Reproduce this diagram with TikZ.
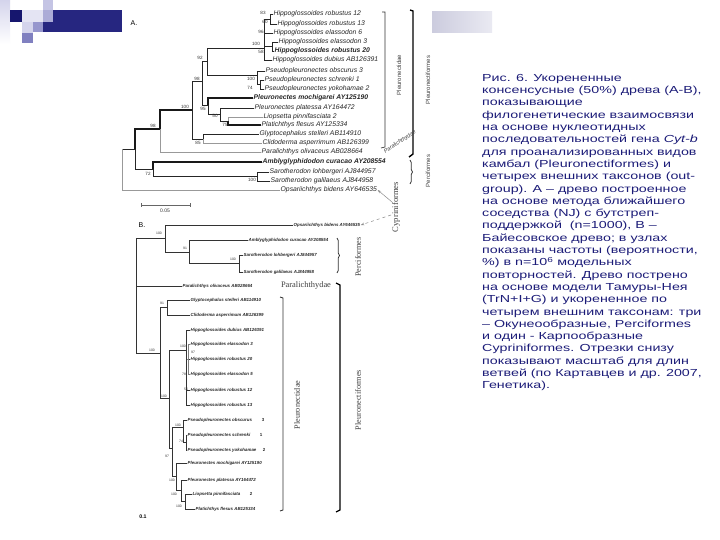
\documentclass[tikz,border=0pt]{standalone}
\usepackage{fontspec}
\setmainfont{Liberation Sans}
\newfontfamily\capfont[FakeStretch=1.4]{Liberation Sans}
\newfontfamily\serifB{Liberation Serif}
\usetikzlibrary{arrows.meta,decorations.pathreplacing}
\definecolor{capblue}{RGB}{28,28,120}
\definecolor{hdNavy}{RGB}{22,22,110}
\definecolor{hdBar}{RGB}{38,38,128}
\definecolor{hlA}{RGB}{212,212,236}
\definecolor{hlB}{RGB}{228,228,243}
\definecolor{hlC}{RGB}{196,196,228}
\definecolor{hmA}{RGB}{150,150,205}
\definecolor{hmB}{RGB}{128,128,192}
\definecolor{hmC}{RGB}{172,172,215}
\definecolor{boxL}{RGB}{204,204,222}
\definecolor{boxR}{RGB}{234,234,242}
\begin{document}
\begin{tikzpicture}[x=1pt,y=-1pt,
  leafA/.style={anchor=west,inner sep=0.5pt,font=\fontsize{6.8}{6.8}\selectfont\itshape,text=black!85},
  leafB/.style={anchor=west,inner sep=0.5pt,font=\fontsize{4.4}{4.4}\selectfont\bfseries\itshape,text=black!85},
  numB/.style={inner sep=0pt,font=\fontsize{4.4}{4.4}\selectfont\bfseries,text=black!85},
  bsA/.style={inner sep=0pt,font=\fontsize{4.6}{4.6}\selectfont,text=black!80},
  bsB/.style={inner sep=0pt,font=\fontsize{3.4}{3.4}\selectfont,text=black!80},
  tr/.style={draw=black!85,line width=0.7pt},
  trk/.style={draw=black!90,line width=1.4pt},
  trg/.style={draw=black!40,line width=0.7pt},
  trB/.style={draw=black!80,line width=0.45pt},
  brA/.style={draw=black!80,line width=0.7pt},
  labA/.style={rotate=90,inner sep=0pt,font=\fontsize{6}{6}\selectfont,text=black!75},
  labB/.style={rotate=90,inner sep=0pt,font=\serifB\fontsize{8.2}{8.2}\selectfont,text=black!75}]
\useasboundingbox (0,0) rectangle (720,540);
\fill[white] (0,0) rectangle (720,540);
% ---------- header decoration ----------
\shade[top color=hlA,bottom color=white] (0,0) rectangle (10,44);
\fill[hdNavy] (10,10) rectangle (22,22);
\fill[hlB] (22,10) rectangle (43,22);
\fill[hlC] (43,0) rectangle (53,10);
\fill[hlA] (22,22) rectangle (33,33);
\fill[hmA] (33,22) rectangle (43,32);
\fill[hmB] (22,33) rectangle (33,43);
\fill[hmC] (43,10) rectangle (53,22);
\fill[hdBar] (53,10) rectangle (122,32);
\fill[hdBar] (43,22) rectangle (53,32);
\shade[left color=boxL,right color=boxR] (432,12) rectangle (492,33);
% ---------- tree A ----------
\node[inner sep=0pt,font=\fontsize{7}{7}\selectfont] (labA) at (134,23) {A.};
\node[leafA] (a1) at (273,14) {Hippoglossoides robustus 12};
\node[leafA] (a2) at (277,24) {Hippoglossoides robustus 13};
\node[leafA] (a3) at (273,33) {Hippoglossoides elassodon 6};
\node[leafA] (a4) at (278,42) {Hippoglossoides elassodon 3};
\node[leafA,font=\fontsize{6.8}{6.8}\selectfont\itshape\bfseries] (a5) at (274,51) {Hippoglossoides robustus 20};
\node[leafA] (a6) at (272,60) {Hippoglossoides dubius AB126391};
\node[leafA] (a7) at (265,71) {Pseudopleuronectes obscurus 3};
\node[leafA] (a8) at (264,80) {Pseudopleuronectes schrenki 1};
\node[leafA] (a9) at (264,89) {Pseudopleuronectes yokohamae 2};
\node[leafA,font=\fontsize{6.8}{6.8}\selectfont\itshape\bfseries] (a10) at (253,98) {Pleuronectes mochigarei AY125190};
\node[leafA] (a11) at (254,108) {Pleuronectes platessa AY164472};
\node[leafA] (a12) at (263,117) {Liopsetta pinnifasciata 2};
\node[leafA] (a13) at (261,125) {Platichthys flesus AY125334};
\node[leafA] (a14) at (259,134) {Glyptocephalus stelleri AB114910};
\node[leafA] (a15) at (262,143) {Clidoderma asperrimum AB126399};
\node[leafA] (a16) at (261,152) {Paralichthys olivaceus AB028664};
\node[leafA,font=\fontsize{6.8}{6.8}\selectfont\itshape\bfseries] (a17) at (262,162) {Amblyglyphidodon curacao AY208554};
\node[leafA] (a18) at (269,172) {Sarotherodon lohbergeri AJ844957};
\node[leafA] (a19) at (270,181) {Sarotherodon galilaeus AJ844958};
\node[leafA] (a20) at (280,190) {Opsariichthys bidens AY646535};
\coordinate (aR) at (122,149);
\coordinate (aN1) at (135,149);
\coordinate (aF) at (160,129);
\coordinate (aPc) at (153,169);
\coordinate (aG) at (192,110);
\coordinate (aP) at (202,81);
\coordinate (aGC) at (203,139);
\coordinate (aQ) at (207,61);
\coordinate (aS) at (208,105);
\coordinate (aH) at (264,48);
\coordinate (aPs) at (257,75);
\coordinate (aH2) at (270,19);
\coordinate (aH4) at (272,46);
\coordinate (aPs2) at (260,84);
\coordinate (aS2) at (220,114);
\coordinate (aS3) at (228,121);
\coordinate (aSar) at (257,176);
\draw[tr] (aR) |- (aN1);
\draw[trg] (aR) |- (a20.west);
\draw[trk] (aN1) |- (aF);
\draw[tr] (aN1) |- (aPc);
\draw[trk] (aF) |- (aG);
\draw[trg] (aF) |- (a16.west);
\draw[tr] (aG) |- (aP);
\draw[tr] (aG) |- (aGC);
\draw[tr] (aP) |- (aQ);
\draw[tr] (aP) |- (aS);
\draw[tr] (aQ) |- (aH);
\draw[tr] (aQ) |- (aPs);
\draw[tr] (aH) |- (aH2);
\draw[tr] (aH) |- (a3.west);
\draw[tr] (aH) |- (aH4);
\draw[tr] (aH) |- (a6.west);
\draw[tr] (aH2) |- (a1.west);
\draw[tr] (aH2) |- (a2.west);
\draw[tr] (aH4) |- (a4.west);
\draw[tr] (aH4) |- (a5.west);
\draw[tr] (aPs) |- (a7.west);
\draw[tr] (aPs) |- (aPs2);
\draw[tr] (aPs2) |- (a8.west);
\draw[tr] (aPs2) |- (a9.west);
\draw[trk] (aS) |- (a10.west);
\draw[tr] (aS) |- (aS2);
\draw[tr] (aS2) |- (a11.west);
\draw[tr] (aS2) |- (aS3);
\draw[trg] (aS3) |- (a12.west);
\draw[trk] (aS3) |- (a13.west);
\draw[tr] (aGC) |- (a14.west);
\draw[trg] (aGC) |- (a15.west);
\draw[trk] (aPc) |- (a17.west);
\draw[tr] (aPc) |- (aSar);
\draw[tr] (aSar) |- (a18.west);
\draw[tr] (aSar) |- (a19.west);
\foreach \t/\x/\y [count=\i] in {83/263/13,60/265/22,96/261/32,100/256/44,58/261/52,92/200/58,98/197/79,100/251/79,74/250/88,100/185/107,95/203/109,50/215/116,75/225/125,98/153/126,85/198/143,72/148/174,100/252/180}
  \node[bsA] (bsa\i) at (\x,\y) {\t};
% scale bar A
\coordinate (sbA1) at (141,205);
\coordinate (sbA2) at (190,205);
\draw[draw=black!60,line width=0.6pt] (sbA1) -- (sbA2);
\draw[draw=black!60,line width=0.6pt] ([yshift=-2pt]sbA1) -- ([yshift=2pt]sbA1);
\draw[draw=black!60,line width=0.6pt] ([yshift=-2pt]sbA2) -- ([yshift=2pt]sbA2);
\node[bsA,font=\fontsize{5}{5}\selectfont] (sbAl) at (165,211) {0.05};
% brackets A
\draw[brA] (382,12) -- (385,12) -- (385,147) -- (381,148);
\node[labA] (lPdA) at (399,75) {Pleuronectidae};
\draw[draw=black,line width=1.4pt] (410,10) -- (413,11) -- (413,154) -- (409,157);
\node[labA] (lPfA) at (428,80) {Pleuronectiformes};
\node[inner sep=0pt,rotate=33,font=\fontsize{5.6}{5.6}\selectfont\itshape,text=black!75] (lPaA) at (400,142) {Paralichthydae};
\draw[brA,decorate,decoration={brace,amplitude=2.5pt}] (410,160) -- (410,184);
\node[labA] (lPcA) at (428,171) {Perciformes};
% Cypriniformes
\node[labB,font=\serifB\fontsize{8.6}{8.6}\selectfont] (lCy) at (396,207) {Cypriniformes};
\coordinate (cyA) at (392,202);
\coordinate (cyB) at (391,215);
% ---------- tree B ----------
\node[inner sep=0pt,font=\fontsize{7}{7}\selectfont] (labB) at (142,225) {B.};
\node[leafB] (b1) at (293,225) {Opsariichthys bidens AY646535};
\node[leafB] (b2) at (248,240) {Amblyglyphidodon curacao AY208554};
\node[leafB] (b3) at (243,255) {Sarotherodon lohbergeri AJ844957};
\node[leafB] (b4) at (243,272) {Sarotherodon galilaeus AJ844958};
\node[leafB] (b5) at (182,286) {Paralichthys olivaceus AB028664};
\node[leafB] (b6) at (190,300) {Glyptocephalus stelleri AB114910};
\node[leafB] (b7) at (190,315) {Clidoderma asperrimum AB126399};
\node[leafB] (b8) at (190,330) {Hippoglossoides dubius AB126391};
\node[leafB] (b9) at (190,344) {Hippoglossoides elassodon 3};
\node[leafB] (b10) at (190,359) {Hippoglossoides robustus 20};
\node[leafB] (b11) at (190,374) {Hippoglossoides elassodon 5};
\node[leafB] (b12) at (190,390) {Hippoglossoides robustus 12};
\node[leafB] (b13) at (190,405) {Hippoglossoides robustus 13};
\node[leafB] (b14) at (187,420) {Pseudopleuronectes obscurus};
\node[leafB] (b15) at (187,435) {Pseudopleuronectes schrenki};
\node[leafB] (b16) at (187,450) {Pseudopleuronectes yokohamae};
\node[leafB] (b17) at (187,463) {Pleuronectes mochigarei AY125190};
\node[leafB] (b18) at (187,480) {Pleuronectes platessa AY164472};
\node[leafB] (b19) at (192,494) {Liopsetta pinnifasciata};
\node[leafB] (b20) at (195,509) {Platichthys flesus AB125334};
\node[numB] (n14) at (263,420) {3};
\node[numB] (n15) at (261,435) {1};
\node[numB] (n16) at (264,450) {2};
\node[numB] (n19) at (251,494) {2};
\coordinate (bR) at (136,238);
\coordinate (bOP) at (165,238);
\coordinate (bPc) at (189,252);
\coordinate (bSar) at (239,263);
\coordinate (bPL) at (160,353);
\coordinate (bGC) at (167,307);
\coordinate (bR2) at (169,398);
\coordinate (bHB) at (186,350);
\coordinate (bHB2) at (188,359);
\coordinate (bR3) at (172,448);
\coordinate (bPs) at (183,427);
\coordinate (bPs2) at (186,442);
\coordinate (bPn) at (176,476);
\coordinate (bPn2) at (181,490);
\coordinate (bPn3) at (185,501);
\draw[trB] (bR) |- (bOP);
\draw[trB] (bOP) |- (b1.west);
\draw[trB] (bOP) |- (bPc);
\draw[trB] (bPc) |- (b2.west);
\draw[trB] (bPc) |- (bSar);
\draw[trB] (bSar) |- (b3.west);
\draw[trB] (bSar) |- (b4.west);
\draw[trB] (bR) |- (b5.west);
\draw[trB] (bR) |- (bPL);
\draw[trB] (bPL) |- (bGC);
\draw[trB] (bPL) |- (bR2);
\draw[trB] (bGC) |- (b6.west);
\draw[trB] (bGC) |- (b7.west);
\draw[trB] (bR2) |- (bHB);
\draw[trB] (bR2) |- (bR3);
\draw[trB] (bHB) |- (b8.west);
\draw[trB,draw=black!50,line width=1pt] (bHB) |- (bHB2);
\draw[trB] (bHB) |- (b12.west);
\draw[trB] (bHB) |- (b13.west);
\draw[trB,draw=black!50,line width=1pt] (bHB2) |- (b9.west);
\draw[trB] (bHB2) |- (b10.west);
\draw[trB,draw=black!50,line width=1pt] (bHB2) |- (b11.west);
\draw[trB] (bR3) |- (bPs);
\draw[trB] (bR3) |- (bPn);
\draw[trB] (bPs) |- (b14.west);
\draw[trB] (bPs) |- (bPs2);
\draw[trB,line width=0.9pt] (bPs2) |- (b15.west);
\draw[trB,line width=0.9pt] (bPs2) |- (b16.west);
\draw[trB] (bPn) |- (b17.west);
\draw[trB] (bPn) |- (bPn2);
\draw[trB] (bPn2) |- (b18.west);
\draw[trB] (bPn2) |- (bPn3);
\draw[trB] (bPn3) |- (b19.west);
\draw[trB] (bPn3) |- (b20.west);
\foreach \t/\x/\y [count=\i] in {100/159/233,91/185/248,100/233/259,91/162/303,100/152/350,100/164/396,100/183/346,97/193/352,78/184/374,56/186/389,100/178/425,74/181/441,97/167/456,100/172/480,100/174/494,100/179/506}
  \node[bsB] (bsb\i) at (\x,\y) {\t};
\node[inner sep=0pt,font=\fontsize{5.2}{5.2}\selectfont\bfseries] (sbB) at (143,517) {0.1};
% brackets B
\draw[brA,line width=0.8pt,decorate,decoration={brace,amplitude=2.5pt}] (337,238) -- (337,273);
\node[labB] (lPcB) at (358,257) {Perciformes};
\node[inner sep=0pt,font=\serifB\fontsize{8.4}{8.4}\selectfont,text=black!75] (lPaB) at (306,285) {Paralichthydae};
\draw[brA,line width=0.8pt] (280,297) -- (283,298) -- (283,510) -- (280,511);
\node[labB] (lPdB) at (297,405) {Pleuronectidae};
\draw[draw=black,line width=1.3pt] (336,283) -- (340,285) -- (340,510) -- (336,512);
\node[labB] (lPfB) at (358,400) {Pleuronectiformes};
% pointers to Cypriniformes
\draw[draw=black!45,line width=0.5pt,-{Stealth[length=3.5pt,width=2.5pt]}] (cyA) -- (a20.east);
\draw[draw=black!45,line width=0.5pt,dashed,-{Stealth[length=3.5pt,width=2.5pt]}] (cyB) -- (b1.east);
% ---------- caption ----------
\node[anchor=north west,inner sep=0pt,align=left,text=capblue,
      font=\capfont\fontsize{10.2}{12.3}\selectfont] (cap) at (482,74)
{Рис. 6. Укорененные\\
консенсусные (50\%) древа (А-В),\\
показывающие\\
филогенетические взаимосвязи\\
на основе нуклеотидных\\
последовательностей гена \textit{Cyt-b}\\
для проанализированных видов\\
камбал (Pleuronectiformes) и\\
четырех внешних таксонов (out-\\
group). А – древо построенное\\
на основе метода ближайшего\\
соседства (NJ) с бутстреп-\\
поддержкой\ \ (n=1000), В –\\
Байесовское древо; в узлах\\
показаны частоты (вероятности,\\
\%) в n=10\textsuperscript{6} модельных\\
повторностей. Древо пострено\\
на основе модели Тамуры-Нея\\
(TrN+I+G) и укорененное по\\
четырем внешним таксонам: три\\
– Окунеообразные, Perciformes\\
и один - Карпообразные\\
Cypriniformes. Отрезки снизу\\
показывают масштаб для длин\\
ветвей (по Картавцев и др. 2007,\\
Генетика).};
\end{tikzpicture}
\end{document}
